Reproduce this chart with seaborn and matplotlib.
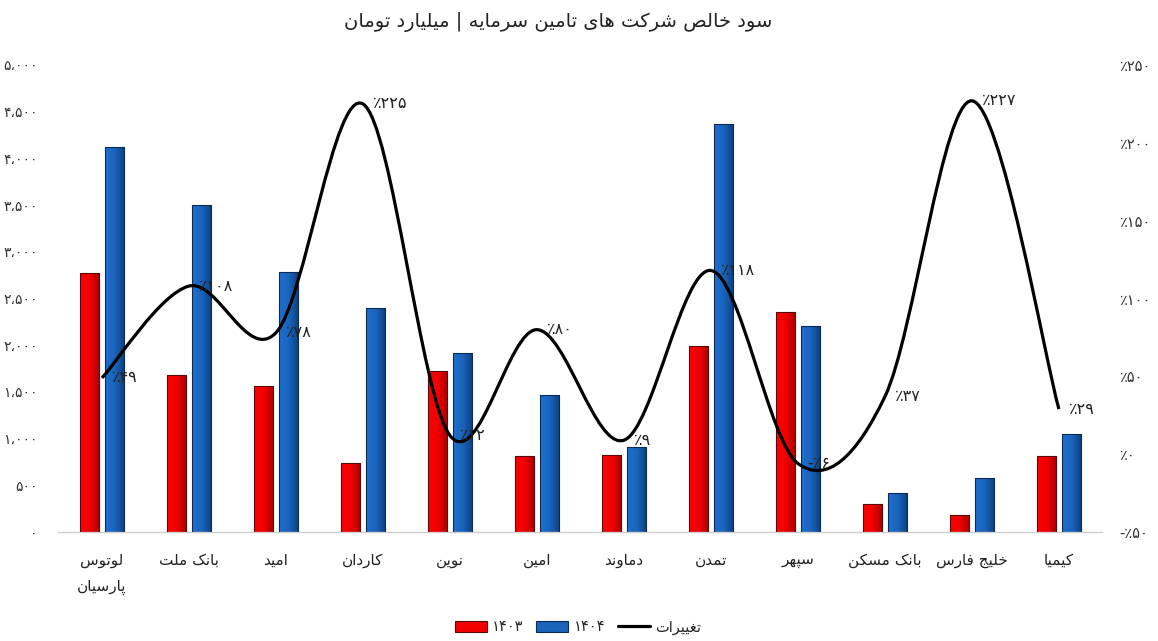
import numpy as np
import pandas as pd
import matplotlib
matplotlib.use("Agg")
import matplotlib.pyplot as plt
import seaborn as sns
from matplotlib.path import Path
from matplotlib.patches import PathPatch, Patch
from matplotlib.lines import Line2D
from matplotlib.colors import LinearSegmentedColormap

# data
companies = ["لوتوس\nپارسیان", "بانک ملت", "امید", "کاردان", "نوین", "امین",
             "دماوند", "تمدن", "سپهر", "بانک مسکن", "خلیج فارس", "کیمیا"]
profit_1403 = [2770, 1680, 1565, 737, 1720, 814, 828, 1995, 2355, 300, 178, 814]
profit_1404 = [4120, 3500, 2787, 2395, 1917, 1467, 910, 4372, 2202, 421, 582, 1046]
change_pct = [49, 108, 78, 225, 12, 80, 9, 118, -6, 37, 227, 29]
years = ["۱۴۰۳", "۱۴۰۴"]
title = "سود خالص شرکت های تامین سرمایه | میلیارد تومان"
change_label = "تغییرات"

# minimal arabic/persian shaping (matplotlib has no complex text layout)
FORMS = {
    "ا": (0xFE8D, 0xFE8E, None, None), "ب": (0xFE8F, 0xFE90, 0xFE91, 0xFE92),
    "ت": (0xFE95, 0xFE96, 0xFE97, 0xFE98), "ج": (0xFE9D, 0xFE9E, 0xFE9F, 0xFEA0),
    "خ": (0xFEA5, 0xFEA6, 0xFEA7, 0xFEA8), "د": (0xFEA9, 0xFEAA, None, None),
    "ر": (0xFEAD, 0xFEAE, None, None), "ز": (0xFEAF, 0xFEB0, None, None),
    "س": (0xFEB1, 0xFEB2, 0xFEB3, 0xFEB4), "ش": (0xFEB5, 0xFEB6, 0xFEB7, 0xFEB8),
    "ص": (0xFEB9, 0xFEBA, 0xFEBB, 0xFEBC), "غ": (0xFECD, 0xFECE, 0xFECF, 0xFED0),
    "ف": (0xFED1, 0xFED2, 0xFED3, 0xFED4), "ل": (0xFEDD, 0xFEDE, 0xFEDF, 0xFEE0),
    "م": (0xFEE1, 0xFEE2, 0xFEE3, 0xFEE4), "ن": (0xFEE5, 0xFEE6, 0xFEE7, 0xFEE8),
    "ه": (0xFEE9, 0xFEEA, 0xFEEB, 0xFEEC), "و": (0xFEED, 0xFEEE, None, None),
    "ی": (0xFBFC, 0xFBFD, 0xFBFE, 0xFBFF), "ک": (0xFB8E, 0xFB8F, 0xFB90, 0xFB91),
    "پ": (0xFB56, 0xFB57, 0xFB58, 0xFB59),
}


def dual(c):
    return c in FORMS and FORMS[c][2] is not None


def shape_line(text):
    out = []
    n = len(text)
    i = 0
    while i < n:
        c = text[i]
        if c not in FORMS:
            out.append(c)
            i += 1
            continue
        prev = text[i - 1] if i > 0 else ""
        nxt = text[i + 1] if i + 1 < n else ""
        if c == "ل" and nxt == "ا":
            out.append(chr(0xFEFC if dual(prev) else 0xFEFB))
            i += 2
            continue
        iso, fin, ini, med = FORMS[c]
        lp = dual(prev)
        ln = dual(c) and nxt in FORMS
        if lp and ln:
            g = med
        elif lp:
            g = fin
        elif ln:
            g = ini
        else:
            g = iso
        out.append(chr(g))
        i += 1
    return "".join(reversed(out))


def fa(text):
    return "\n".join(shape_line(t) for t in text.split("\n"))


def fa_digits(s):
    return str(s).translate(str.maketrans("0123456789", "۰۱۲۳۴۵۶۷۸۹"))


def pct_label(v):
    return ("-" if v < 0 else "") + "٪" + fa_digits(abs(int(v)))


sns.set_theme(style="white")
plt.rcParams["font.family"] = ["DejaVu Sans"]

df = pd.DataFrame({
    "company": companies * 2,
    "profit": profit_1403 + profit_1404,
    "year": [years[0]] * len(companies) + [years[1]] * len(companies),
})

fig = plt.figure(figsize=(11.58, 6.41), dpi=100)
ax = fig.add_axes([0.0505, 0.170, 0.9015, 0.7286])

sns.barplot(data=df, x="company", y="profit", hue="year", hue_order=years,
            palette=["#ff0000", "#1f6fcc"], width=0.576, gap=0.236,
            edgecolor="#3a1010", linewidth=0.8, legend=False, ax=ax,
            zorder=3)

# gradient fill inside bars
cmaps = [LinearSegmentedColormap.from_list("r", ["#ff0000", "#f00000", "#a80000"]),
         LinearSegmentedColormap.from_list("b", ["#1f70cf", "#1a64bb", "#0c3f80"])]
edges = ["#5a0a0a", "#0b2a55"]
grad = np.linspace(0, 1, 64).reshape(1, -1)
for cont, cmap, ec in zip(ax.containers, cmaps, edges):
    for bar in cont:
        x0, y0 = bar.get_x(), bar.get_y()
        w, h = bar.get_width(), bar.get_height()
        im = ax.imshow(grad, cmap=cmap, extent=(x0, x0 + w, y0, y0 + h),
                       aspect="auto", zorder=2.5, interpolation="bilinear")
        im.set_clip_path(bar)
        bar.set_facecolor("none")
        bar.set_edgecolor(ec)

ax.set_xlim(-0.5, len(companies) - 0.5)
ax.set_ylim(0, 5000)
yt = np.arange(0, 5001, 500)
ax.set_yticks(yt)
ax.set_yticklabels([fa_digits(f"{v:,}").replace(",", "،") for v in yt],
                   fontsize=10, color="#333333")
ax.set_xticks(range(len(companies)))
ax.set_xticklabels([fa(c) for c in companies], fontsize=11, color="#222222",
                   linespacing=1.9)
ax.tick_params(axis="y", length=0, pad=15)
ax.tick_params(axis="x", length=0, pad=15)
ax.set_xlabel("")
ax.set_ylabel("")
for s in ["left", "right", "top"]:
    ax.spines[s].set_visible(False)
ax.spines["bottom"].set_color("#d0d0d0")
ax.spines["bottom"].set_linewidth(1.0)

# secondary axis: smoothed change line
ax2 = ax.twinx()
ax2.set_ylim(-50, 250)
rt = np.arange(-50, 251, 50)
ax2.set_yticks(rt)
ax2.set_yticklabels([pct_label(v) for v in rt], fontsize=10.5, color="#333333")
ax2.tick_params(axis="y", length=0, pad=12)
for s in ax2.spines.values():
    s.set_visible(False)
ax2.grid(False)

pts = np.column_stack([np.arange(len(change_pct)), change_pct]).astype(float)
verts = [tuple(pts[0])]
codes = [Path.MOVETO]
n = len(pts)
for i in range(n - 1):
    p0 = pts[max(i - 1, 0)]
    p1 = pts[i]
    p2 = pts[i + 1]
    p3 = pts[min(i + 2, n - 1)]
    c1 = p1 + (p2 - p0) / 6
    c2 = p2 - (p3 - p1) / 6
    verts += [tuple(c1), tuple(c2), tuple(p2)]
    codes += [Path.CURVE4] * 3
ax2.add_patch(PathPatch(Path(verts, codes), fill=False, lw=2.3,
                        edgecolor="black", capstyle="butt", zorder=3))

for i, v in enumerate(change_pct):
    ax2.annotate(pct_label(v), xy=(i, v), xytext=(7, 0),
                 textcoords="offset points", ha="left", va="center",
                 fontsize=11.5, color="#222222", zorder=4)

fig.text(558 / 1158, 1 - 22 / 641, fa(title), ha="center", va="center",
         fontsize=14, color="#222222")

handles = [Patch(facecolor="#f00000", edgecolor=edges[0], linewidth=0.8),
           Patch(facecolor="#1a64bb", edgecolor=edges[1], linewidth=0.8),
           Line2D([0], [0], color="black", lw=2.3)]
fig.legend(handles, [years[0], years[1], fa(change_label)], loc="center",
           bbox_to_anchor=(578 / 1158, 1 - 627 / 641), ncol=3, frameon=False,
           fontsize=10.5, handlelength=2.2, handleheight=0.8, columnspacing=0.9,
           handletextpad=0.35)

fig.savefig("out.png", dpi=100, facecolor="white")
